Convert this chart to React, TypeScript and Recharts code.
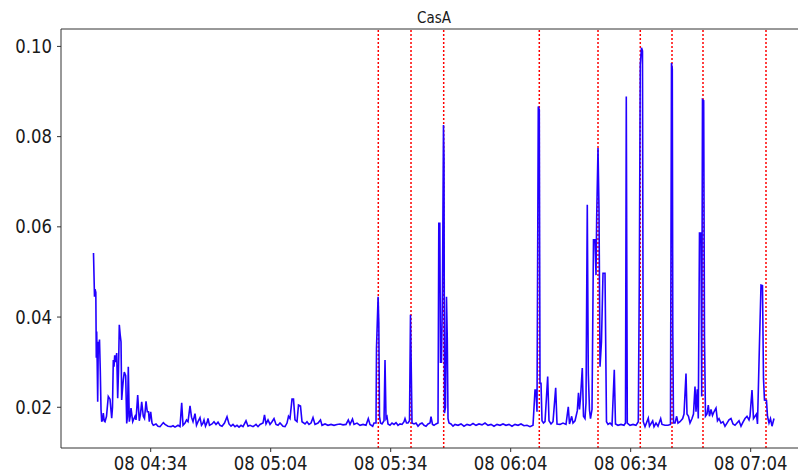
import { Line, LineChart, ReferenceLine, XAxis, YAxis } from 'recharts';

// Minutes after 04:00 on the 8th, paired with the CasA reading.
const settling: [number, number][] = [
  [19.7, 0.0542], [19.95, 0.0445], [20.08, 0.0462], [20.28, 0.0455], [20.4, 0.031],
  [20.5, 0.0368], [20.62, 0.03], [20.75, 0.0212], [20.9, 0.0345], [21.08, 0.0335],
  [21.2, 0.035], [21.4, 0.028], [21.58, 0.0195], [21.75, 0.0168], [21.95, 0.0172],
  [22.15, 0.0187], [22.38, 0.017], [22.58, 0.0168], [22.95, 0.018], [23.4, 0.0224],
  [23.83, 0.0218], [24.25, 0.0176], [24.45, 0.02], [24.65, 0.0305], [24.83, 0.029],
  [25.0, 0.0315], [25.2, 0.03], [25.5, 0.032], [25.75, 0.022], [25.95, 0.028],
  [26.15, 0.0383], [26.38, 0.036], [26.58, 0.0345], [26.75, 0.0216], [26.95, 0.024],
  [27.15, 0.026], [27.4, 0.0278], [27.75, 0.027], [28.0, 0.0164], [28.2, 0.018],
  [28.4, 0.029], [28.65, 0.0168], [28.88, 0.018], [29.08, 0.0198], [29.5, 0.0168],
  [29.83, 0.0175], [30.08, 0.018], [30.33, 0.0172], [30.75, 0.0227], [31.15, 0.017],
  [31.45, 0.0185], [31.75, 0.0212], [32.15, 0.018], [32.45, 0.0175], [32.83, 0.0213],
  [33.15, 0.019], [33.45, 0.019], [33.65, 0.0168], [34.0, 0.019], [34.33, 0.0165],
  [34.65, 0.016],
];

const quiet: [number, number][] = [
  [35.33, 0.0163], [35.83, 0.0158], [36.33, 0.0157], [37.15, 0.0166], [37.58, 0.0162],
  [38.33, 0.0158], [39.08, 0.0157], [39.58, 0.0159], [40.08, 0.0156], [40.83, 0.016],
  [41.33, 0.0157], [41.75, 0.021], [42.08, 0.016], [42.58, 0.0165], [42.95, 0.0172],
  [43.33, 0.0168], [43.83, 0.0203], [44.2, 0.0178], [44.58, 0.0168], [45.08, 0.0186],
  [45.45, 0.016], [45.83, 0.0168], [46.33, 0.0177], [46.7, 0.016], [47.08, 0.0165],
  [47.33, 0.0172], [47.7, 0.0158], [48.08, 0.0166], [48.33, 0.0175], [48.7, 0.016],
  [49.33, 0.0163], [49.83, 0.0168], [50.33, 0.0162], [50.83, 0.0167], [51.33, 0.016],
  [51.83, 0.0158], [52.45, 0.0165], [53.08, 0.0179], [53.58, 0.0163], [54.08, 0.0158],
  [54.58, 0.0162], [55.08, 0.0157], [55.58, 0.016], [56.08, 0.0156], [56.58, 0.016],
  [57.08, 0.0157], [57.83, 0.017], [58.33, 0.0158], [58.83, 0.016], [59.58, 0.0157],
  [60.33, 0.0162], [60.83, 0.0157], [61.33, 0.0162], [62.08, 0.0165], [62.45, 0.0183],
  [62.83, 0.0163], [63.33, 0.0172], [63.83, 0.0162], [64.33, 0.0168], [64.83, 0.0175],
  [65.33, 0.0162], [65.83, 0.016], [66.33, 0.0165], [67.08, 0.0158], [67.58, 0.0157],
  [68.08, 0.0165], [68.45, 0.018], [68.83, 0.0175], [69.33, 0.0218], [69.7, 0.0218],
  [70.08, 0.0172], [70.58, 0.0168], [70.95, 0.0205], [71.45, 0.0203], [71.83, 0.0168],
  [72.58, 0.0163], [73.08, 0.0168], [73.58, 0.0162], [74.08, 0.0165], [74.58, 0.0177],
  [75.08, 0.0162], [75.83, 0.0165], [76.45, 0.0172], [76.83, 0.016], [77.58, 0.0163],
  [78.33, 0.016], [79.08, 0.0162], [79.83, 0.016], [80.58, 0.0162], [81.33, 0.0163],
  [82.08, 0.0161], [82.83, 0.0162], [83.4, 0.0172], [83.83, 0.0162], [84.45, 0.0174],
  [84.83, 0.0162], [85.58, 0.0165], [86.33, 0.016], [87.08, 0.0162], [87.83, 0.016],
  [88.4, 0.0175], [88.83, 0.0162], [89.5, 0.0158], [89.83, 0.0165], [90.33, 0.0165],
];

const firstBursts: [number, number][] = [
  [90.45, 0.033], [90.85, 0.0445], [91.03, 0.0387], [91.2, 0.018], [91.45, 0.0165],
  [91.83, 0.0163], [92.33, 0.017], [92.58, 0.0305], [92.83, 0.0175], [93.08, 0.0179],
  [93.33, 0.0163], [93.83, 0.016], [94.33, 0.0165], [94.83, 0.0162], [95.33, 0.0166],
  [95.83, 0.016], [96.33, 0.0163], [96.83, 0.0162], [97.33, 0.0168], [97.58, 0.0175],
  [97.95, 0.0165], [98.33, 0.0165], [98.7, 0.017], [98.95, 0.0405], [99.15, 0.028],
  [99.33, 0.0165], [99.83, 0.0163], [100.33, 0.0165], [100.83, 0.0158], [101.33, 0.0163],
  [101.83, 0.0165], [102.33, 0.016], [102.83, 0.0158], [103.33, 0.0163], [103.83, 0.0165],
  [104.08, 0.0179], [104.45, 0.0162], [104.83, 0.016], [105.33, 0.0163], [105.83, 0.0165],
  [106.03, 0.0608], [106.28, 0.0608], [106.45, 0.03], [106.7, 0.03], [106.95, 0.046],
  [107.2, 0.0826], [107.33, 0.075], [107.45, 0.0187], [107.7, 0.02], [107.95, 0.0445],
  [108.15, 0.035], [108.33, 0.0175], [108.58, 0.0165],
];

const lull: [number, number][] = [
  [109.08, 0.0163], [109.58, 0.0158], [110.08, 0.0162], [110.83, 0.016], [111.58, 0.0163],
  [112.33, 0.0158], [113.08, 0.0162], [113.83, 0.016], [114.58, 0.0164], [115.33, 0.016],
  [116.08, 0.0163], [116.83, 0.0161], [117.58, 0.0165], [118.33, 0.016], [119.08, 0.0162],
  [119.83, 0.0158], [120.58, 0.0162], [121.33, 0.016], [122.08, 0.0163], [122.83, 0.016],
  [123.58, 0.0162], [124.33, 0.0158], [125.08, 0.0162], [125.83, 0.016], [126.58, 0.0163],
  [127.33, 0.0159], [128.08, 0.016], [128.83, 0.0157], [129.58, 0.016],
];

const activeBursts: [number, number][] = [
  [130.08, 0.0238], [130.33, 0.0238], [130.58, 0.019], [130.9, 0.0867], [131.15, 0.086],
  [131.33, 0.0253], [131.58, 0.0253], [131.83, 0.017], [132.2, 0.0165], [132.58, 0.0168],
  [133.25, 0.0268], [133.58, 0.017], [134.08, 0.0163], [134.58, 0.0168], [135.25, 0.0243],
  [135.58, 0.0163], [136.33, 0.0162], [137.08, 0.0165], [137.83, 0.0162], [138.4, 0.0201],
  [138.7, 0.0163], [139.25, 0.018], [139.58, 0.0165], [140.08, 0.017], [140.65, 0.0192],
  [140.95, 0.0232], [141.2, 0.0195], [141.45, 0.022], [141.9, 0.0287], [142.2, 0.018],
  [142.58, 0.0175], [142.83, 0.021], [143.15, 0.0649], [143.4, 0.0276], [143.7, 0.0194],
  [143.95, 0.0175], [144.33, 0.0195], [144.7, 0.0571], [145.08, 0.0571], [145.33, 0.0493],
  [145.5, 0.062], [145.83, 0.0775], [146.08, 0.0638], [146.33, 0.029], [146.7, 0.0346],
  [147.08, 0.0497], [147.58, 0.0497], [147.95, 0.0168], [148.33, 0.0162], [148.83, 0.0165],
  [149.33, 0.016], [149.9, 0.0283], [150.2, 0.0163], [150.83, 0.016], [151.58, 0.0162],
  [152.33, 0.016], [152.7, 0.0165], [152.9, 0.0889], [153.15, 0.0165], [153.83, 0.016],
  [154.58, 0.0162], [155.33, 0.016], [155.9, 0.0168], [156.15, 0.0475], [156.4, 0.096],
  [156.7, 0.0997], [156.95, 0.099], [157.15, 0.0168], [157.58, 0.0157], [158.4, 0.0176],
  [158.7, 0.0158], [159.5, 0.017], [159.83, 0.0157], [160.33, 0.0165], [160.83, 0.0158],
  [161.5, 0.0175], [161.83, 0.0162], [162.58, 0.016], [163.33, 0.016], [163.95, 0.0162],
  [164.2, 0.0963], [164.4, 0.095], [164.53, 0.0368], [164.7, 0.0165], [165.08, 0.0165],
  [165.5, 0.018], [165.83, 0.0165], [166.33, 0.0168], [167.0, 0.0175], [167.33, 0.0185],
  [167.83, 0.0275], [168.08, 0.0185], [168.45, 0.018], [168.83, 0.0165], [169.33, 0.0175],
  [169.7, 0.0185], [170.08, 0.0246], [170.33, 0.019], [170.65, 0.024], [170.9, 0.0175],
  [171.2, 0.0586], [171.58, 0.0586], [171.75, 0.0224], [171.95, 0.0882], [172.25, 0.088],
  [172.45, 0.0357], [172.7, 0.018],
];

const tail: [number, number][] = [
  [173.08, 0.0185], [173.4, 0.0205], [173.7, 0.018], [174.08, 0.0195], [174.45, 0.0182],
  [174.83, 0.019], [175.33, 0.0198], [175.7, 0.017], [176.08, 0.0175], [176.58, 0.0165],
  [177.08, 0.0168], [177.58, 0.0158], [178.08, 0.0165], [178.58, 0.0172], [179.08, 0.0175],
  [179.58, 0.0163], [180.08, 0.016], [180.58, 0.0165], [181.08, 0.017], [181.58, 0.0158],
  [182.08, 0.0167], [182.58, 0.0175], [183.08, 0.018], [183.58, 0.0172], [183.83, 0.018],
  [184.33, 0.0238], [184.7, 0.0175], [185.08, 0.018], [185.45, 0.0185], [185.7, 0.0163],
  [186.2, 0.0342], [186.58, 0.0471], [186.95, 0.047], [187.2, 0.0264], [187.45, 0.0216],
  [187.95, 0.0215], [188.2, 0.018], [188.58, 0.0165], [188.95, 0.0175], [189.33, 0.0158],
  [189.83, 0.0175],
];

// Flagged event times (minutes after 04:00).
const eventTimes = [90.9, 99.08, 107.25, 131.15, 145.83, 156.4, 164.33, 172.08, 187.83];

const xTicks = [34, 64, 94, 124, 154, 184];
const yTicks = [0.02, 0.04, 0.06, 0.08, 0.1];
const X_DOMAIN: [number, number] = [11.575, 198.08];
const Y_DOMAIN: [number, number] = [0.01097, 0.10386];

const data = [...settling, ...quiet, ...firstBursts, ...lull, ...activeBursts, ...tail].map(
  ([t, v]) => ({ t, v }),
);

const fmtTime = (t: number) => {
  const h = 4 + Math.floor(t / 60);
  const m = Math.round(t % 60);
  return `08 ${String(h).padStart(2, '0')}:${String(m).padStart(2, '0')}`;
};

const FONT = 'DejaVu Sans';
const TEXT = '#1a1a1a';
const STRETCH = 1.15;

// tick text is drawn slightly taller than wide, anchored at the baseline
function XTick({ x, y, payload }: any) {
  return (
    <text
      transform={`translate(${x},${y + 18}) scale(1,${STRETCH})`}
      textAnchor="middle"
      fontFamily={FONT}
      fontSize={16.5}
      fill={TEXT}
    >
      {fmtTime(payload.value)}
    </text>
  );
}

function YTick({ x, y, payload }: any) {
  return (
    <text
      transform={`translate(${x},${y + 6.5}) scale(1,${STRETCH})`}
      textAnchor="end"
      fontFamily={FONT}
      fontSize={16.5}
      fill={TEXT}
    >
      {payload.value.toFixed(2)}
    </text>
  );
}

export default function App() {
  return (
    <div
      style={{
        position: 'absolute',
        left: 0,
        top: 0,
        width: 798,
        height: 475,
        overflow: 'hidden',
        background: '#fff',
      }}
    >
      <svg
        width={798}
        height={30}
        style={{ position: 'absolute', left: 0, top: 0 }}
      >
        <text
          transform={`translate(434,22.5) scale(1,${STRETCH})`}
          textAnchor="middle"
          fontFamily={FONT}
          fontSize={13.5}
          fill={TEXT}
        >
          CasA
        </text>
      </svg>
      <LineChart
        width={808}
        height={475}
        data={data}
        margin={{ top: 29, right: 1, bottom: 0, left: 0 }}
      >
        <XAxis
          dataKey="t"
          type="number"
          domain={X_DOMAIN}
          ticks={xTicks}
          tick={<XTick />}
          tickSize={4}
          tickMargin={0}
          height={27}
          stroke="#333"
          allowDataOverflow
        />
        <YAxis
          type="number"
          domain={Y_DOMAIN}
          ticks={yTicks}
          tick={<YTick />}
          tickSize={4}
          tickMargin={5}
          width={61}
          stroke="#333"
          allowDataOverflow
        />
        <ReferenceLine y={Y_DOMAIN[1]} stroke="#333" />
        {eventTimes.map((t) => (
          <ReferenceLine
            key={t}
            x={t}
            stroke="#ff0000"
            strokeWidth={1.5}
            strokeDasharray="2 2"
          />
        ))}
        <Line
          dataKey="v"
          type="linear"
          stroke="#2200ff"
          strokeWidth={1.6}
          dot={false}
          isAnimationActive={false}
        />
      </LineChart>
    </div>
  );
}
